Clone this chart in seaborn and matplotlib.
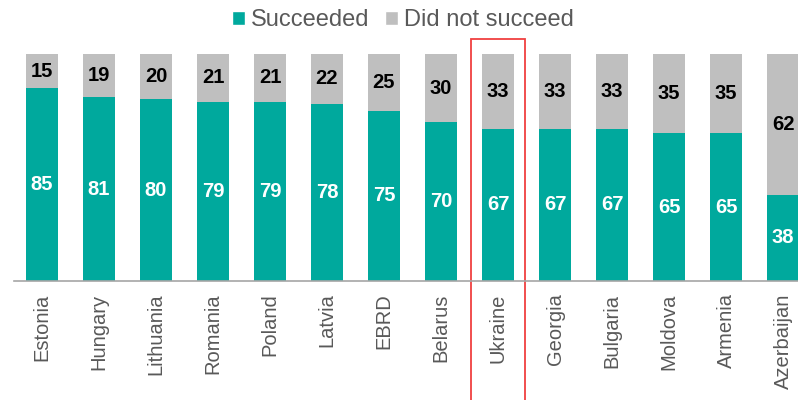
import matplotlib
matplotlib.use("Agg")
import matplotlib.pyplot as plt
import matplotlib.transforms as mtransforms
from matplotlib.patches import Rectangle, Patch
import seaborn as sns
import pandas as pd

countries = ["Estonia", "Hungary", "Lithuania", "Romania", "Poland", "Latvia", "EBRD",
             "Belarus", "Ukraine", "Georgia", "Bulgaria", "Moldova", "Armenia", "Azerbaijan"]
succeeded = [85, 81, 80, 79, 79, 78, 75, 70, 67, 67, 67, 65, 65, 38]
not_succeeded = [15, 19, 20, 21, 21, 22, 25, 30, 33, 33, 33, 35, 35, 62]
highlight = "Ukraine"

teal = "#00A99D"
grey = "#BFBFBF"
text_grey = "#595959"

df = pd.DataFrame({"country": countries, "succeeded": succeeded,
                   "not_succeeded": not_succeeded})
df["total"] = df["succeeded"] + df["not_succeeded"]

sns.set_style("white")
plt.rcParams["font.family"] = ["Liberation Sans", "DejaVu Sans"]

fig = plt.figure(figsize=(7.98, 4.0), dpi=100)
ax = fig.add_axes([14 / 798, 0.2975, 1 - 14 / 798, 0.5675])

sns.barplot(data=df, x="country", y="total", color=grey, width=0.57,
            saturation=1, linewidth=0, ax=ax)
sns.barplot(data=df, x="country", y="succeeded", color=teal, width=0.57,
            saturation=1, linewidth=0, ax=ax)

# grey labels sit in the middle of the upper segment
for bar, s, n in zip(ax.containers[0], succeeded, not_succeeded):
    ax.text(bar.get_x() + bar.get_width() / 2, s + n / 2, str(n),
            ha="center", va="center", fontsize=14.5, fontweight="bold", color="black")
ax.bar_label(ax.containers[1], labels=[str(v) for v in succeeded], label_type="center",
             fontsize=14.5, fontweight="bold", color="white")

ax.set_ylim(0, 100)
ax.set_xlim(-0.491, 13.263)
ax.set_yticks([])
ax.set_xlabel("")
ax.set_ylabel("")
for s in ["top", "right", "left"]:
    ax.spines[s].set_visible(False)
ax.spines["bottom"].set_color("#A6A6A6")
ax.spines["bottom"].set_linewidth(1.2)
ax.tick_params(axis="x", length=0, pad=9, labelsize=14.5, labelcolor=text_grey)
plt.setp(ax.get_xticklabels(), rotation=90, va="top", ha="center")

# highlight box around one country
idx = countries.index(highlight)
trans = mtransforms.blended_transform_factory(ax.transData, fig.transFigure)
ax.add_patch(Rectangle((idx - 0.47, -0.01), 0.94, 0.9125, transform=trans,
                       fill=False, edgecolor="#F04040", linewidth=1.3, clip_on=False))

handles = [Patch(facecolor=teal, label="Succeeded"),
           Patch(facecolor=grey, label="Did not succeed")]
fig.legend(handles=handles, loc="center", bbox_to_anchor=(403 / 798, 1 - 20 / 400),
           ncol=2, frameon=False, fontsize=17, handlelength=0.55, handleheight=0.55,
           handletextpad=0.25, columnspacing=0.64, labelcolor=text_grey,
           borderpad=0, borderaxespad=0)

fig.savefig("out.png", dpi=100)
